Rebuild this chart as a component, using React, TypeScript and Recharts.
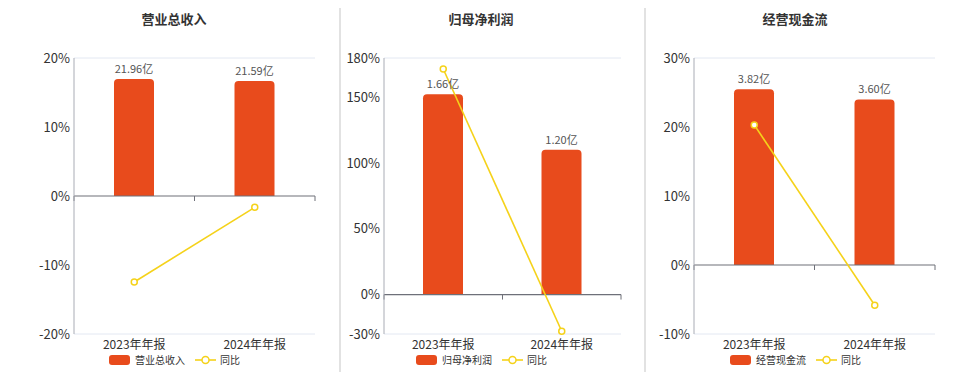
import React from "react";
import {
  ComposedChart,
  Bar,
  Line,
  XAxis,
  YAxis,
  CartesianGrid,
  ReferenceLine,
  LabelList,
} from "recharts";

const CATEGORIES = ["2023年年报", "2024年年报"];

const REVENUE = [21.96, 21.59];
const REVENUE_YOY = [-12.46, -1.64];

const PROFIT = [1.66, 1.2];
const PROFIT_YOY = [171.6, -27.9];

const CASHFLOW = [3.82, 3.6];
const CASHFLOW_YOY = [20.3, -5.84];

const REVENUE_TICKS = [-20, -10, 0, 10, 20];
const PROFIT_TICKS = [-30, 0, 50, 100, 150, 180];
const CASHFLOW_TICKS = [-10, 0, 10, 20, 30];

const BAR_COLOR = "#e84b1c";
const LINE_COLOR = "#f5d21a";
const FONT = '"Noto Sans CJK SC", "Noto Sans", sans-serif';

function buildRows(values: number[], yoy: number[]) {
  return CATEGORIES.map((name, i) => ({ name, value: values[i], yoy: yoy[i] }));
}

// zero axis line with small tick marks (ends + category boundary)
const ZeroAxis = (props: any) => {
  const { x1, y1, x2 } = props;
  const mid = (x1 + x2) / 2;
  return (
    <g>
      <line x1={x1} y1={y1} x2={x2} y2={y1} stroke="#6e7079" strokeWidth={1.2} />
      {[x1, mid, x2].map((x, i) => (
        <line key={i} x1={x} y1={y1} x2={x} y2={y1 + 5} stroke="#6e7079" strokeWidth={1} />
      ))}
    </g>
  );
};

function Panel({
  title,
  seriesName,
  left,
  width,
  yWidth,
  marginRight,
  titleX,
  legendX,
  values,
  yoy,
  ticks,
  barDomain,
}: {
  title: string;
  seriesName: string;
  left: number;
  width: number;
  yWidth: number;
  marginRight: number;
  titleX: number;
  legendX: number;
  values: number[];
  yoy: number[];
  ticks: number[];
  barDomain: [number, number];
}) {
  const data = buildRows(values, yoy);
  return (
    <>
      <div
        style={{
          position: "absolute",
          left: titleX - 60,
          width: 120,
          top: 10,
          textAlign: "center",
          fontSize: 13,
          fontWeight: 700,
          color: "#333",
          fontFamily: FONT,
          lineHeight: "18px",
        }}
      >
        {title}
      </div>
      <div style={{ position: "absolute", left, top: 0 }}>
        <ComposedChart
          width={width}
          height={372}
          data={data}
          margin={{ top: 58, right: marginRight, bottom: 8, left: 0 }}
        >
          <CartesianGrid vertical={false} stroke="#e3e8f2" />
          <XAxis
            dataKey="name"
            axisLine={false}
            tickLine={false}
            height={30}
            tickSize={0}
            tickMargin={6}
            tick={{ fontSize: 12, fill: "#333", fontFamily: FONT }}
          />
          <YAxis
            yAxisId="pct"
            width={yWidth}
            domain={[ticks[0], ticks[ticks.length - 1]]}
            ticks={ticks}
            interval={0}
            tickFormatter={(v) => `${v}%`}
            axisLine={{ stroke: "#a9acb5" }}
            tickLine={false}
            tickSize={2}
            tickMargin={2}
            tick={{ fontSize: 13, fill: "#333", fontFamily: FONT }}
          />
          <YAxis yAxisId="amt" orientation="right" hide domain={barDomain} />
          <ReferenceLine yAxisId="pct" y={0} shape={ZeroAxis} />
          <Bar
            yAxisId="amt"
            dataKey="value"
            fill={BAR_COLOR}
            barSize={40}
            radius={[4, 4, 0, 0]}
            isAnimationActive={false}
          >
            <LabelList
              dataKey="value"
              position="top"
              offset={6}
              formatter={(v: any) => `${Number(v).toFixed(2)}亿`}
              style={{ fontSize: 11, fill: "#555", fontFamily: FONT }}
            />
          </Bar>
          <Line
            yAxisId="pct"
            dataKey="yoy"
            stroke={LINE_COLOR}
            strokeWidth={1.6}
            dot={{ r: 3, fill: "#fff", stroke: LINE_COLOR, strokeWidth: 1.5 }}
            isAnimationActive={false}
          />
        </ComposedChart>
      </div>
      <div
        style={{
          position: "absolute",
          left: legendX,
          top: 353,
          display: "flex",
          alignItems: "center",
          fontSize: 10,
          color: "#333",
          fontFamily: FONT,
          lineHeight: "14px",
        }}
      >
        <div style={{ width: 21, height: 10, borderRadius: 3, background: BAR_COLOR }} />
        <span style={{ marginLeft: 5 }}>{seriesName}</span>
        <svg width={21} height={10} style={{ marginLeft: 10 }}>
          <line x1={0} y1={5} x2={21} y2={5} stroke={LINE_COLOR} strokeWidth={1.6} />
          <circle cx={10.5} cy={5} r={3.5} fill="#fff" stroke={LINE_COLOR} strokeWidth={1.5} />
        </svg>
        <span style={{ marginLeft: 4 }}>同比</span>
      </div>
    </>
  );
}

export default function App() {
  return (
    <div
      style={{
        position: "absolute",
        left: 0,
        top: 0,
        width: 960,
        height: 372,
        background: "#fff",
        overflow: "hidden",
      }}
    >
      <div style={{ position: "absolute", left: 339, top: 8, width: 2, height: 364, background: "#e2e2e2" }} />
      <div style={{ position: "absolute", left: 644, top: 8, width: 2, height: 364, background: "#e2e2e2" }} />
      <Panel
        title="营业总收入"
        seriesName="营业总收入"
        left={0}
        width={330}
        yWidth={74}
        marginRight={15}
        titleX={174}
        legendX={109}
        values={REVENUE}
        yoy={REVENUE_YOY}
        ticks={REVENUE_TICKS}
        barDomain={[-25.9, 25.9]}
      />
      <Panel
        title="归母净利润"
        seriesName="归母净利润"
        left={340}
        width={290}
        yWidth={44}
        marginRight={9}
        titleX={481}
        legendX={416}
        values={PROFIT}
        yoy={PROFIT_YOY}
        ticks={PROFIT_TICKS}
        barDomain={[-0.327, 1.96]}
      />
      <Panel
        title="经营现金流"
        seriesName="经营现金流"
        left={650}
        width={300}
        yWidth={44}
        marginRight={15}
        titleX={795}
        legendX={730}
        values={CASHFLOW}
        yoy={CASHFLOW_YOY}
        ticks={CASHFLOW_TICKS}
        barDomain={[-1.5, 4.5]}
      />
    </div>
  );
}
